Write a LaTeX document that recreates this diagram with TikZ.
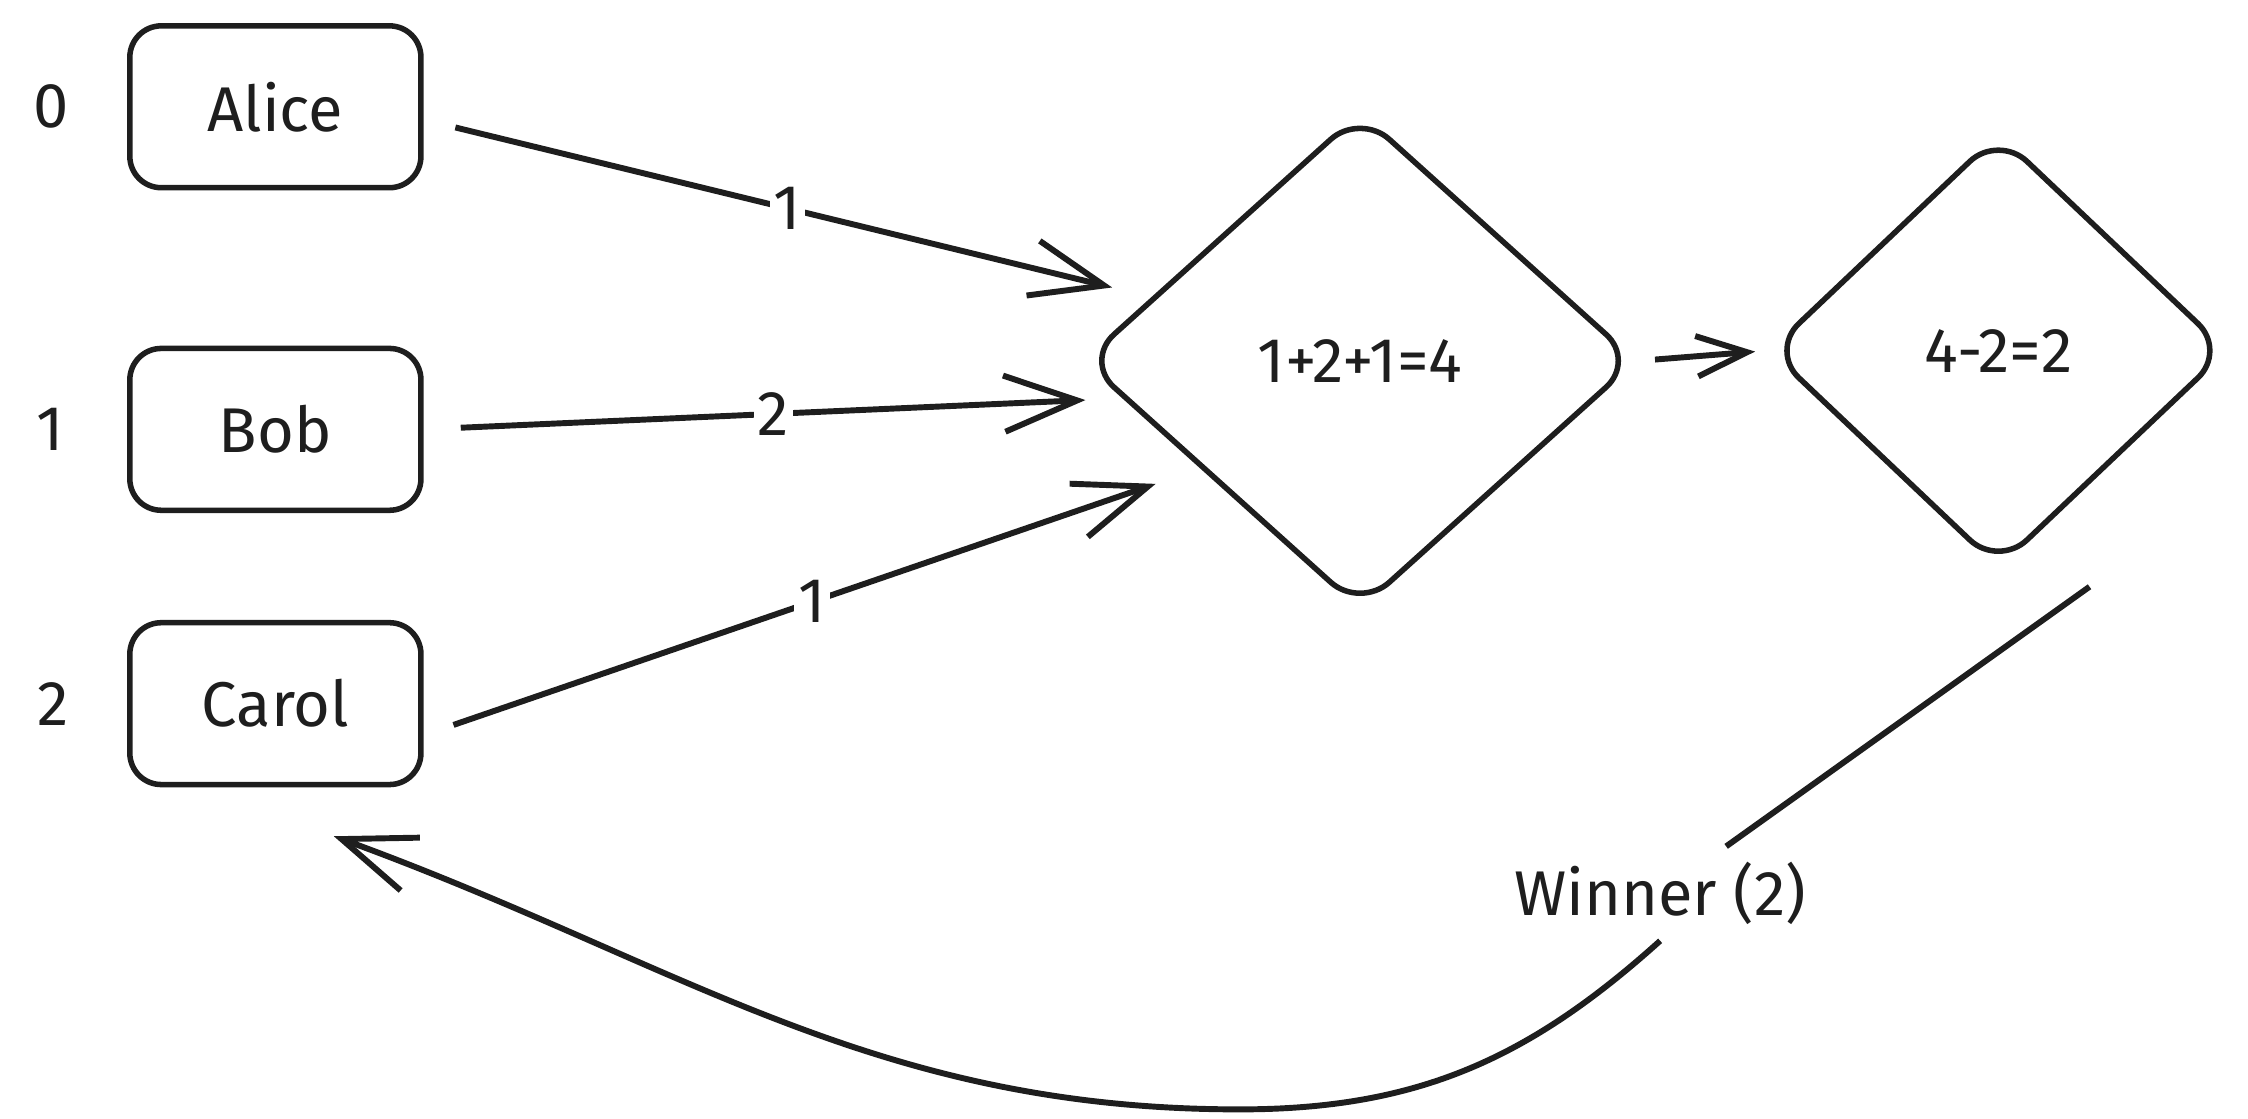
\documentclass[tikz,border=0pt]{standalone}
\usepackage{fontspec}
\setmainfont{Fira Sans}
\usetikzlibrary{arrows.meta, positioning, shapes.geometric}
\definecolor{ink}{HTML}{1E1E1E}

\begin{document}
\begin{tikzpicture}[color=ink, line width=1.4pt, font=\fontsize{16}{19}\selectfont,
  player/.style={draw, rounded corners=0.28cm, minimum width=2.59cm, minimum height=1.44cm},
  calc/.style={draw, diamond, rounded corners=0.35cm, inner sep=0pt},
  vote/.style={-{Straight Barb[length=6.5mm,width=5mm]}, line width=1.5pt},
  weight/.style={fill=white, inner sep=1pt}]

\useasboundingbox (0,0) rectangle (20,-9.947);

\node[player] (alice) at (2.45,-0.95) {Alice};
\node[player] (bob) at (2.45,-3.82) {Bob};
\node[player] (carol) at (2.45,-6.26) {Carol};
\node[left=0.38cm of alice] (idx0) {0};
\node[left=0.42cm of bob] (idx1) {1};
\node[left=0.38cm of carol] (idx2) {2};

\node[calc, minimum width=4.92cm, minimum height=4.43cm] (sum) at (12.10,-3.21) {1+2+1=4};
\node[calc, minimum width=4.08cm, minimum height=3.87cm, right=1.13cm of sum, yshift=0.09cm] (diff) {4-2=2};

\draw[vote, shorten <=0.29cm, shorten >=0.36cm] (alice.-5) -- node[weight] {1} (sum.163);
\draw[vote, shorten <=0.33cm, shorten >=0.33cm] (bob.east) -- node[weight] {2} (sum.189);
\draw[vote, shorten <=0.28cm, shorten >=0.42cm] (carol.-12) -- node[weight] {1} (sum.214);
\draw[-{Straight Barb[length=4.5mm,width=3.6mm]}, line width=1.5pt, shorten <=0.14cm, shorten >=0.1cm] (sum.east) -- (diff.west);

\coordinate (ws) at (18.59,-5.22);
\coordinate (low) at (11.03,-9.87);
\coordinate (we) at (2.97,-7.44);
\node (winner) at (14.77,-7.95) {Winner (2)};
\draw[line width=1.5pt] (ws) -- (winner);
\draw[vote] (winner.south) to[out=222,in=0] (low) to[out=180,in=-20] (we);

\end{tikzpicture}
\end{document}
